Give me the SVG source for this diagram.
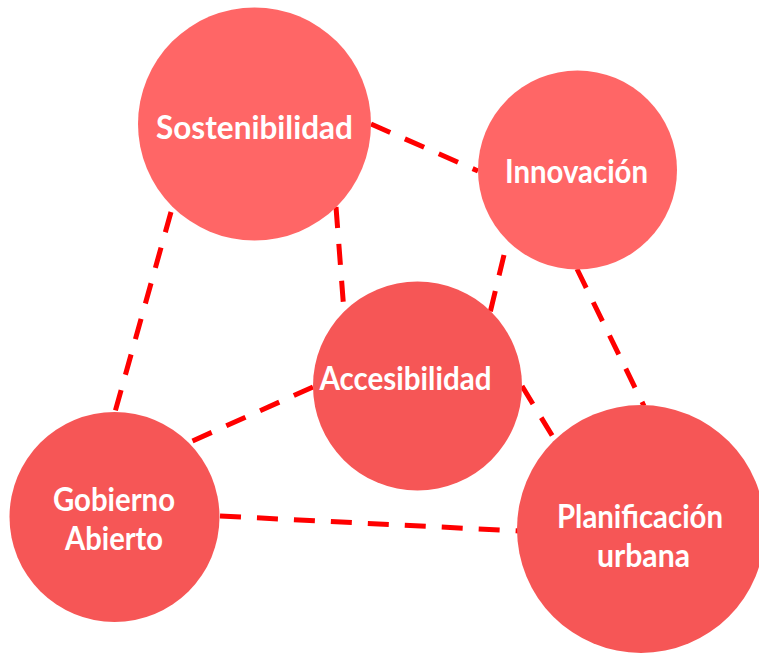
<svg xmlns="http://www.w3.org/2000/svg" width="759" height="655" viewBox="0 0 759 655">
<style>
.link{stroke:#FF0000;stroke-width:5;stroke-dasharray:21 16;fill:none}
.light{fill:#FF6666}
.dark{fill:#F65656}
.lbl{font-family:"Lato","Liberation Sans",sans-serif;font-weight:bold;font-size:33px;fill:#FFFFFF;text-anchor:middle}
</style>
<rect width="759" height="655" fill="#FFFFFF"/>
<g id="connectors">
<line class="link" x1="371" y1="124" x2="478" y2="171"/>
<line class="link" x1="171" y1="212" x2="115" y2="412"/>
<line class="link" x1="336" y1="207" x2="344" y2="312"/>
<line class="link" x1="504" y1="255" x2="490" y2="313"/>
<line class="link" x1="577" y1="269" x2="644" y2="406"/>
<line class="link" x1="313" y1="387" x2="188" y2="443"/>
<line class="link" x1="522" y1="386" x2="553" y2="437"/>
<line class="link" x1="220" y1="516" x2="520" y2="531"/>
</g>
<g id="sostenibilidad">
<circle class="light" cx="254.5" cy="124" r="116.5"/>
<text class="lbl" x="254.5" y="139" textLength="197" lengthAdjust="spacingAndGlyphs">Sostenibilidad</text>
</g>
<g id="innovacion">
<circle class="light" cx="577.5" cy="170" r="99.5"/>
<text class="lbl" x="576.5" y="183" textLength="143" lengthAdjust="spacingAndGlyphs">Innovación</text>
</g>
<g id="accesibilidad">
<circle class="dark" cx="417.5" cy="386" r="104.5"/>
<text class="lbl" x="405.5" y="390" textLength="172" lengthAdjust="spacingAndGlyphs">Accesibilidad</text>
</g>
<g id="gobierno-abierto">
<circle class="dark" cx="114.5" cy="517" r="105"/>
<text class="lbl" x="114" y="511" textLength="122" lengthAdjust="spacingAndGlyphs">Gobierno</text>
<text class="lbl" x="114" y="550" textLength="98" lengthAdjust="spacingAndGlyphs">Abierto</text>
</g>
<g id="planificacion-urbana">
<circle class="dark" cx="641" cy="529" r="124"/>
<text class="lbl" x="640" y="528" textLength="166" lengthAdjust="spacingAndGlyphs">Planificación</text>
<text class="lbl" x="643.5" y="567" textLength="93" lengthAdjust="spacingAndGlyphs">urbana</text>
</g>
</svg>
